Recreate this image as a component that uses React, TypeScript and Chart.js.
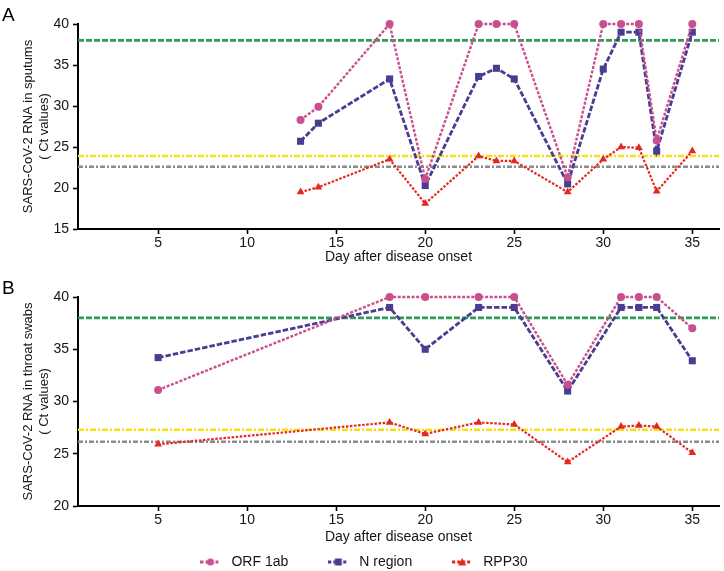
import { useEffect, useRef } from "react";
import { Chart, registerables } from "chart.js";

Chart.register(...registerables);

const FONT = "'Liberation Sans', Arial, Helvetica, sans-serif";
const TEXT = "#151515";

const X_MIN = 0.5;
const X_MAX = 36.5;
const xTicks = [5, 10, 15, 20, 25, 30, 35];
const xTitle = "Day after disease onset";

const seriesNames = ["ORF 1ab", "N region", "RPP30"];

// Panel A: sputum
const sputumDays = [13, 14, 18, 20, 23, 24, 25, 28, 30, 31, 32, 33, 35];
const sputumORF = [28.3, 29.9, 40, 21.1, 40, 40, 40, 21.3, 40, 40, 40, 25.8, 40];
const sputumN = [25.7, 27.9, 33.3, 20.3, 33.6, 34.6, 33.3, 20.5, 34.5, 39, 39, 24.5, 39];
const sputumRPP = [19.5, 20.1, 23.5, 18.1, 23.9, 23.3, 23.3, 19.5, 23.5, 25.0, 24.9, 19.6, 24.5];
const sputumCutoffs = [38, 23.9, 22.6];
const sputumYTicks = { min: 15, max: 40, step: 5 };
const sputumYTitle = ["SARS-CoV-2 RNA in sputums", "( Ct values)"];

// Panel B: throat swabs
const throatDays = [5, 18, 20, 23, 25, 28, 31, 32, 33, 35];
const throatORF = [31.1, 40, 40, 40, 40, 31.6, 40, 40, 40, 37];
const throatN = [34.2, 39, 35, 39, 39, 31, 39, 39, 39, 33.9];
const throatRPP = [25.9, 28, 26.9, 28, 27.8, 24.2, 27.6, 27.7, 27.6, 25.1];
const throatCutoffs = [38, 27.3, 26.15];
const throatYTicks = { min: 20, max: 40, step: 5 };
const throatYTitle = ["SARS-CoV-2 RNA in throat swabs", "( Ct values)"];

const seriesStyles = [
  { color: "#c8508e", dash: [3, 1.6], width: 2.4, pointStyle: "circle", radius: 4 },
  { color: "#4a3c90", dash: [5.5, 2], width: 2.8, pointStyle: "rect", radius: 5 },
  { color: "#e5281f", dash: [2.5, 1.6], width: 2.2, pointStyle: "triangle", radius: 4.5 },
];
const cutoffStyles = [
  { color: "#2f9b55", dash: [6, 2] },
  { color: "#f7df12", dash: [6, 2, 2, 2] },
  { color: "#8c8c8c", dash: [5, 2, 2, 2] },
];

function pts(days: number[], vals: number[]) {
  return days.map((d, i) => ({ x: d, y: vals[i] }));
}

function makePanel(
  canvas: HTMLCanvasElement,
  days: number[],
  series: number[][],
  cutoffs: number[],
  yt: { min: number; max: number; step: number },
  yTitle: string[],
  xAxisHeight: number,
  padTop: number
) {
  const datasets: any[] = series.map((vals, i) => ({
    label: seriesNames[i],
    data: pts(days, vals),
    borderColor: seriesStyles[i].color,
    backgroundColor: seriesStyles[i].color,
    borderWidth: seriesStyles[i].width,
    borderDash: seriesStyles[i].dash,
    pointStyle: seriesStyles[i].pointStyle,
    pointRadius: seriesStyles[i].radius,
    pointBorderWidth: 0,
    pointBackgroundColor: seriesStyles[i].color,
    tension: 0,
    fill: false,
    clip: false,
  }));
  cutoffs.forEach((c, i) => {
    datasets.push({
      label: "cutoff" + i,
      data: [
        { x: X_MIN, y: c },
        { x: X_MAX, y: c },
      ],
      borderColor: cutoffStyles[i].color,
      borderWidth: 2.6,
      borderDash: cutoffStyles[i].dash,
      pointRadius: 0,
      fill: false,
    });
  });

  const grid = {
    display: true,
    drawOnChartArea: false,
    drawTicks: true,
    tickLength: 5,
    tickColor: "#000",
    tickWidth: 1.6,
  };
  const border = { display: true, color: "#000", width: 2 };

  return new Chart(canvas, {
    type: "line",
    data: { datasets },
    options: {
      animation: false,
      responsive: true,
      maintainAspectRatio: false,
      layout: { padding: { left: 0, right: 1, top: padTop, bottom: 0 } },
      plugins: { legend: { display: false }, tooltip: { enabled: false } },
      scales: {
        x: {
          type: "linear",
          min: X_MIN,
          max: X_MAX,
          afterBuildTicks: (s: any) => {
            s.ticks = xTicks.map((v) => ({ value: v }));
          },
          afterFit: (s: any) => {
            s.height = xAxisHeight;
          },
          grid,
          border,
          ticks: {
            font: { size: 14, family: FONT },
            color: TEXT,
            padding: 1,
            maxRotation: 0,
            autoSkip: false,
          },
          title: {
            display: true,
            text: xTitle,
            font: { size: 14, family: FONT },
            color: TEXT,
            padding: { top: 0, bottom: 2.6 },
          },
        },
        y: {
          type: "linear",
          min: yt.min,
          max: yt.max,
          afterFit: (s: any) => {
            s.width = 78;
          },
          grid,
          border,
          ticks: {
            stepSize: yt.step,
            font: { size: 14, family: FONT },
            color: TEXT,
            padding: 4,
          },
          title: {
            display: true,
            text: yTitle,
            font: { size: 13, family: FONT, lineHeight: 1.3 },
            color: TEXT,
            padding: { top: 19.5, bottom: 0 },
          },
        },
      },
    } as any,
  });
}

function makeGlyph(i: number) {
  const c = document.createElement("canvas");
  c.width = 20;
  c.height = 10;
  const g = c.getContext("2d")!;
  const st = seriesStyles[i];
  g.strokeStyle = st.color;
  g.fillStyle = st.color;
  g.lineWidth = 3;
  g.setLineDash([3, 2]);
  g.beginPath();
  g.moveTo(0, 5);
  g.lineTo(20, 5);
  g.stroke();
  g.setLineDash([]);
  g.beginPath();
  if (st.pointStyle === "circle") {
    g.arc(10, 5, 3.6, 0, Math.PI * 2);
  } else if (st.pointStyle === "rect") {
    g.rect(6.5, 1.5, 7, 7);
  } else {
    g.moveTo(10, 1);
    g.lineTo(14, 8.5);
    g.lineTo(6, 8.5);
    g.closePath();
  }
  g.fill();
  return c;
}

export default function App() {
  const aRef = useRef<HTMLCanvasElement>(null);
  const bRef = useRef<HTMLCanvasElement>(null);
  const lRef = useRef<HTMLCanvasElement>(null);

  useEffect(() => {
    Chart.defaults.font.family = FONT;
    const a = makePanel(
      aRef.current!,
      sputumDays,
      [sputumORF, sputumN, sputumRPP],
      sputumCutoffs,
      sputumYTicks,
      sputumYTitle,
      39,
      24
    );
    const b = makePanel(
      bRef.current!,
      throatDays,
      [throatORF, throatN, throatRPP],
      throatCutoffs,
      throatYTicks,
      throatYTitle,
      42,
      29
    );
    const glyphs = seriesNames.map((_, i) => makeGlyph(i));
    const l = new Chart(lRef.current!, {
      type: "line",
      data: {
        datasets: seriesNames.map((n, i) => ({
          label: n,
          data: [],
          borderColor: seriesStyles[i].color,
        })),
      },
      options: {
        animation: false,
        responsive: true,
        maintainAspectRatio: false,
        layout: { padding: 0 },
        scales: { x: { display: false }, y: { display: false } },
        plugins: {
          tooltip: { enabled: false },
          legend: {
            display: true,
            position: "top",
            labels: {
              usePointStyle: true,
              pointStyleWidth: 28,
              padding: 36,
              font: { size: 14, family: FONT },
              color: TEXT,
              generateLabels: (chart: any) =>
                chart.data.datasets.map((d: any, i: number) => ({
                  text: d.label,
                  pointStyle: glyphs[i],
                  fillStyle: seriesStyles[i].color,
                  strokeStyle: seriesStyles[i].color,
                  fontColor: TEXT,
                  lineWidth: 0,
                  hidden: false,
                  datasetIndex: i,
                })),
            },
          },
        },
      } as any,
    });
    return () => {
      a.destroy();
      b.destroy();
      l.destroy();
    };
  }, []);

  const labelStyle: any = {
    position: "absolute",
    left: 2,
    fontFamily: FONT,
    fontSize: 19,
    lineHeight: "19px",
    color: "#000",
  };

  return (
    <div
      style={{
        position: "absolute",
        left: 0,
        top: 0,
        width: 724,
        height: 571,
        background: "#fff",
        overflow: "hidden",
      }}
    >
      <div style={{ position: "absolute", left: 0, top: 0, width: 724, height: 268 }}>
        <canvas ref={aRef} />
      </div>
      <div style={{ position: "absolute", left: 0, top: 268, width: 724, height: 280 }}>
        <canvas ref={bRef} />
      </div>
      <div style={{ position: "absolute", left: 0, top: 519, width: 724, height: 120 }}>
        <canvas ref={lRef} />
      </div>
      <div style={{ ...labelStyle, top: 4.5 }}>A</div>
      <div style={{ ...labelStyle, top: 277.5 }}>B</div>
    </div>
  );
}
